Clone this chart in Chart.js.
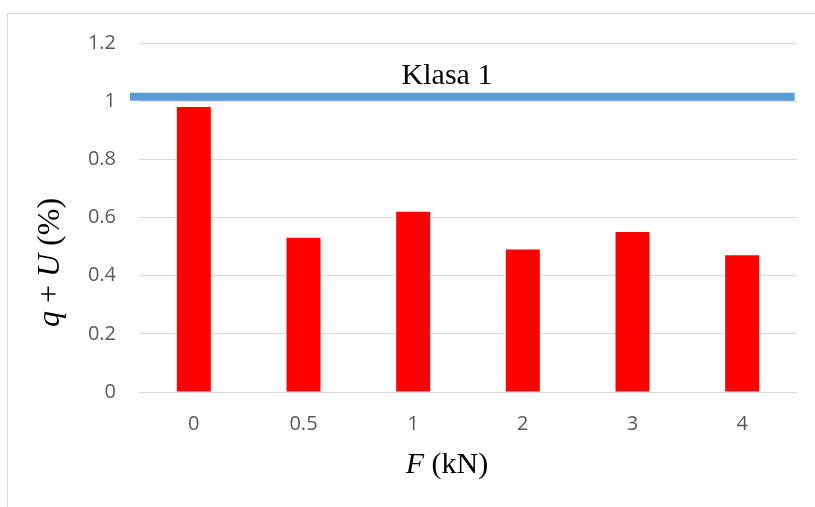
<!DOCTYPE html>
<html>
<head>
<meta charset="utf-8">
<script src="https://cdn.jsdelivr.net/npm/chart.js@4"></script>
<style>
  body { margin: 0; background: #fff; }
  canvas { display: block; }
</style>
</head>
<body>
<canvas id="myChart" width="815" height="507"></canvas>
<script>
// data
const categories = ['0', '0.5', '1', '2', '3', '4'];
const values = [0.98, 0.53, 0.62, 0.49, 0.55, 0.47];
const klasaLevel = 1.015;
const klasaSpan = [-0.0137, 0.9965];   // fraction of plot width
const klasaLabel = 'Klasa 1';
const yMin = 0, yMax = 1.2, yStep = 0.2;

const serif = '"Liberation Serif", "Times New Roman", serif';

function drawParts(c, parts, x, y, size) {
  // parts: [[text, italic]]
  let total = 0;
  parts.forEach(p => {
    c.font = (p[1] ? 'italic ' : '') + size + 'px ' + serif;
    total += c.measureText(p[0]).width;
  });
  let cx = x - total / 2;
  c.textAlign = 'left';
  parts.forEach(p => {
    c.font = (p[1] ? 'italic ' : '') + size + 'px ' + serif;
    c.fillText(p[0], cx, y);
    cx += c.measureText(p[0]).width;
  });
}

const decor = {
  id: 'decor',
  beforeDraw(chart) {
    const c = chart.ctx;
    c.save();
    c.strokeStyle = '#d9d9d9';
    c.lineWidth = 1;
    c.beginPath();
    c.moveTo(7.5, 507);
    c.lineTo(7.5, 13.5);
    c.lineTo(815, 13.5);
    c.stroke();
    c.restore();
  },
  afterDraw(chart) {
    const c = chart.ctx;
    const a = chart.chartArea;
    const y = chart.scales.y;
    const mid = (a.left + a.right) / 2 - 21;
    c.save();
    c.fillStyle = '#000';
    c.textBaseline = 'alphabetic';
    // reference line label
    c.font = '30px ' + serif;
    c.textAlign = 'center';
    c.fillText(klasaLabel, mid, y.getPixelForValue(klasaLevel) - 12.5);
    // x title
    drawParts(c, [['F', true], [' (kN)', false]], mid, 473, 30);
    // y title
    c.translate(59, (a.top + a.bottom) / 2 + 45);
    c.rotate(-Math.PI / 2);
    drawParts(c, [['q', true], [' + ', false], ['U', true], [' (%)', false]], 0, 0, 32);
    c.restore();
  }
};

const ctx = document.getElementById('myChart');

chart = new Chart(ctx, {
  type: 'bar',
  data: {
    labels: categories,
    datasets: [{
      type: 'line',
      xAxisID: 'x2',
      data: [{x: klasaSpan[0], y: klasaLevel}, {x: klasaSpan[1], y: klasaLevel}],
      borderColor: '#5b9bd5',
      borderWidth: 8,
      pointRadius: 0,
      clip: false,
      order: 0
    }, {
      data: values,
      backgroundColor: '#ff0000',
      barPercentage: 0.31,
      categoryPercentage: 1,
      grouped: false,
      order: 1
    }]
  },
  plugins: [decor],
  options: {
    responsive: false,
    animation: false,
    layout: { padding: { left: 8, top: 43, right: 18, bottom: 0 } },
    plugins: { legend: { display: false }, tooltip: { enabled: false } },
    scales: {
      x: {
        grid: { display: false, drawTicks: false },
        border: { display: false },
        ticks: { color: '#595959', font: { family: '"Open Sans"', size: 20 }, padding: 20 },
        afterFit(s) { s.height = 115; }
      },
      x2: {
        type: 'linear',
        display: false,
        offset: false,
        min: 0,
        max: 1
      },
      y: {
        min: yMin,
        max: yMax,
        ticks: {
          stepSize: yStep,
          color: '#595959',
          font: { family: '"Open Sans"', size: 20 },
          padding: 23,
          callback: v => +v.toFixed(1)
        },
        grid: { color: '#d9d9d9', drawTicks: false },
        border: { display: false },
        afterFit(s) { s.width = 131; }
      }
    }
  }
});
</script>
</body>
</html>
